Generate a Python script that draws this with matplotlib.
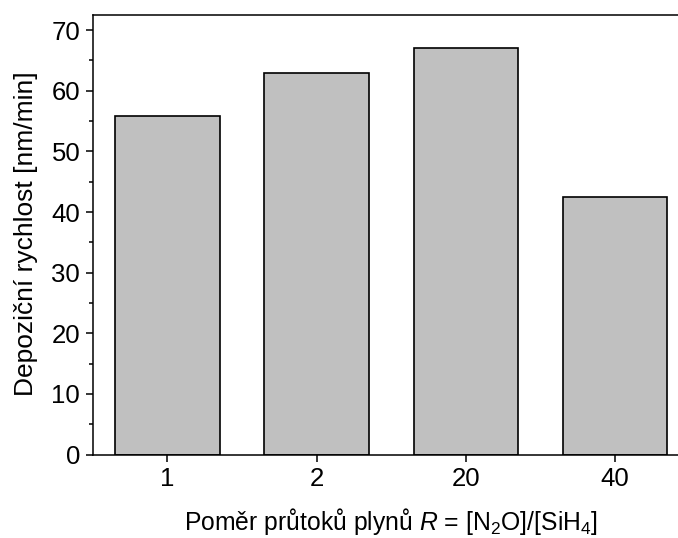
import numpy as np
import matplotlib
matplotlib.use("Agg")
import matplotlib.pyplot as plt
from matplotlib.ticker import MultipleLocator

plt.rcParams['font.family'] = ['Liberation Sans', 'DejaVu Sans']
plt.rcParams['mathtext.fontset'] = 'custom'
plt.rcParams['mathtext.rm'] = 'Liberation Sans'
plt.rcParams['mathtext.it'] = 'Liberation Sans:italic'

# deposition rate for each N2O/SiH4 flow ratio
ratios = ['1', '2', '20', '40']
rates = [55.8, 62.9, 67.0, 42.5]

fig = plt.figure(figsize=(6.78, 5.38), dpi=100)
ax = fig.add_axes([0.1367, 0.155, 0.8805, 0.8165])

x = np.arange(1, len(ratios) + 1)
ax.bar(x, rates, width=0.7, color='#c0c0c0', edgecolor='black', linewidth=1.2)

ax.set_xlim(0.5, 4.5)
ax.set_ylim(0, 72.43)
ax.set_xticks(x)
ax.set_xticklabels(ratios)
ax.yaxis.set_major_locator(MultipleLocator(10))
ax.yaxis.set_minor_locator(MultipleLocator(5))

for s in ax.spines.values():
    s.set_linewidth(1.1)
ax.tick_params(axis='both', which='major', direction='out', length=5, width=1.1,
               labelsize=18.5, pad=4)
ax.tick_params(axis='y', which='minor', direction='out', length=3, width=1.1)
ax.tick_params(top=False, right=False)

ax.set_ylabel('Depoziční rychlost [nm/min]', fontsize=19)
ax.set_xlabel('Poměr průtoků plynů $R$ = [N$_2$O]/[SiH$_4$]', fontsize=17.8)
ax.yaxis.set_label_coords(-0.092, 0.503)
ax.xaxis.set_label_coords(0.5, -0.118)

fig.savefig('out.png', dpi=100)
